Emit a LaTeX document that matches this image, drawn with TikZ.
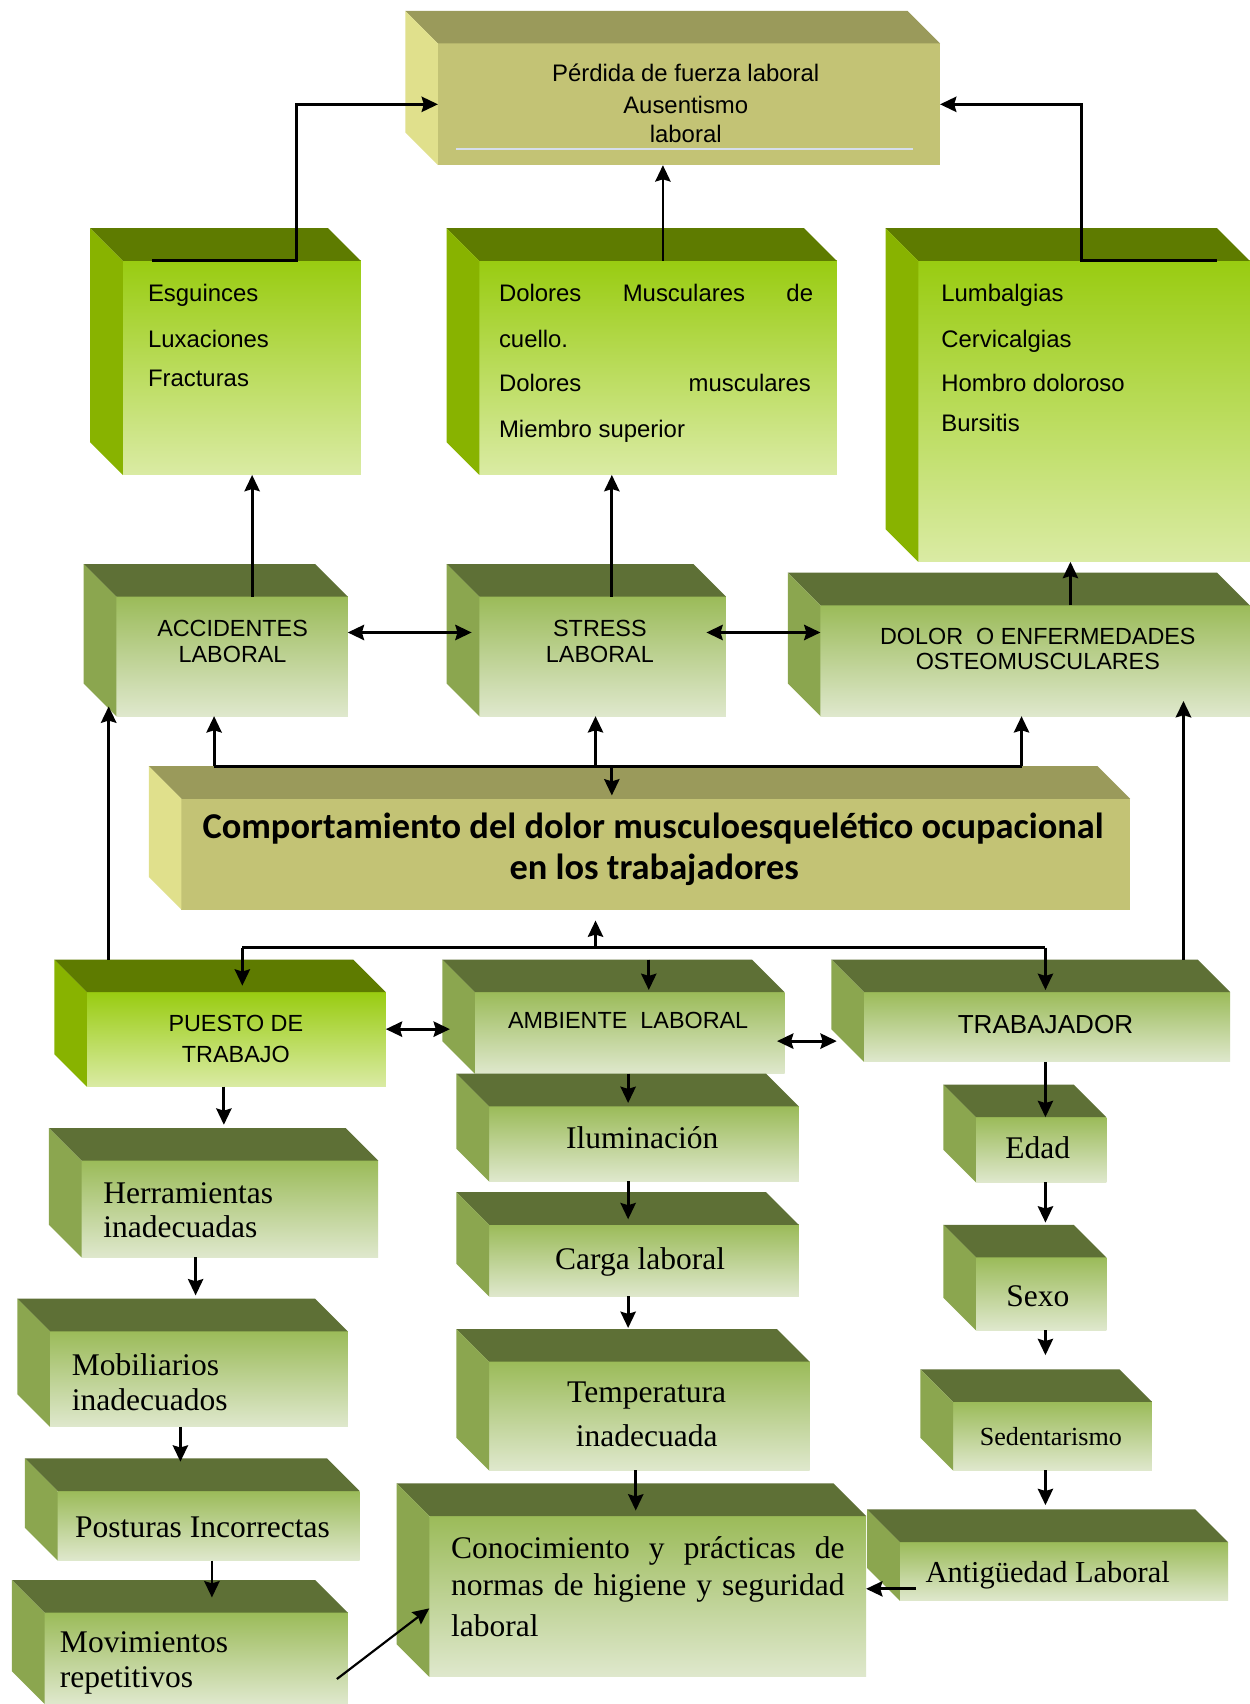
\documentclass[tikz,border=0pt]{standalone}
\usepackage{fontspec}
\setmainfont{Liberation Serif}
\newfontfamily\sansf{Liberation Sans}
\newfontfamily\calf{Carlito}
\usetikzlibrary{calc,arrows.meta}
\definecolor{khF}{HTML}{C3C375}
\definecolor{khT}{HTML}{9A9A5B}
\definecolor{khS}{HTML}{E0E08C}
\definecolor{bgT}{HTML}{5E7B00}
\definecolor{bgS}{HTML}{88B300}
\definecolor{bgFa}{HTML}{99CC11}
\definecolor{bgFb}{HTML}{DAEBA4}
\definecolor{mgT}{HTML}{5E7036}
\definecolor{mgS}{HTML}{8BA64F}
\definecolor{mgFa}{HTML}{9BBB59}
\definecolor{mgFb}{HTML}{DFE8CD}
\definecolor{hiline}{HTML}{D6DEEC}
\newcommand\cuboid[6]{%
  \node[#6face, anchor=north west, minimum width={(#4-#2)*1pt}, minimum height={(#5-#3)*1pt}] (#1) at (#2,#3) {};
  \fill[#6top] (#1.north west) -- ++(-30,-30) -- ($(#1.north east)+(-30,-30)$) -- (#1.north east) -- cycle;
  \fill[#6side] (#1.north west) -- ++(-30,-30) -- ($(#1.south west)+(-30,-30)$) -- (#1.south west) -- cycle;
}
\tikzset{
  khface/.style={fill=khF, inner sep=0pt, outer sep=0pt},
  khtop/.style={fill=khT}, khside/.style={fill=khS},
  bgface/.style={top color=bgFa, bottom color=bgFb, inner sep=0pt, outer sep=0pt},
  bgtop/.style={fill=bgT}, bgside/.style={fill=bgS},
  mgface/.style={top color=mgFa, bottom color=mgFb, inner sep=0pt, outer sep=0pt},
  mgtop/.style={fill=mgT}, mgside/.style={fill=mgS},
  sa/.style={font=\sansf\fontsize{22}{26}\selectfont, inner sep=0pt},
  sc/.style={font=\sansf\fontsize{21.5}{25}\selectfont, inner sep=0pt},
  se/.style={font=\fontsize{29}{33}\selectfont, inner sep=0pt},
  cb/.style={font=\calf\bfseries\fontsize{33.5}{38}\selectfont, inner sep=0pt},
  tip/.tip={Stealth[length=15pt,width=14pt,inset=2pt]},
  ar/.style={line width=2.6pt, -tip},
  dar/.style={line width=2.8pt, tip-tip},
  ln/.style={line width=2.6pt},
}
\begin{document}
\begin{tikzpicture}[x=1pt,y=-1pt]
\useasboundingbox[fill=white] (0,0) rectangle (1150,1568);
% boxes
\cuboid{top}{403}{40}{865}{152}{kh}
\cuboid{esg}{113}{240}{332}{437}{bg}
\cuboid{dol}{441}{240}{770}{437}{bg}
\cuboid{lum}{845}{240}{1150}{517}{bg}
\cuboid{acc}{107}{549}{320}{659}{mg}
\cuboid{str}{441}{549}{668}{659}{mg}
\cuboid{dlr}{755}{557}{1150}{659}{mg}
\cuboid{comp}{167}{735}{1040}{837}{kh}
\cuboid{pue}{80}{913}{355}{1000}{bg}
\cuboid{amb}{437}{913}{722}{988}{mg}
\cuboid{trab}{795}{913}{1132}{977}{mg}
\cuboid{herr}{75}{1068}{348}{1157}{mg}
\cuboid{mob}{46}{1225}{320}{1313}{mg}
\cuboid{post}{53}{1372}{331}{1436}{mg}
\cuboid{mov}{41}{1484}{320}{1568}{mg}
\cuboid{ilu}{450}{1018}{735}{1087}{mg}
\cuboid{carga}{450}{1127}{735}{1193}{mg}
\cuboid{temp}{450}{1253}{745}{1353}{mg}
\cuboid{con}{395}{1395}{797}{1543}{mg}
\cuboid{edad}{898}{1028}{1018}{1088}{mg}
\cuboid{sexo}{898}{1157}{1018}{1224}{mg}
\cuboid{sed}{877}{1290}{1060}{1353}{mg}
\cuboid{ant}{828}{1419}{1130}{1473}{mg}
% highlight line in top box
\draw[hiline, line width=2pt] ($(top.south west)+(17,-15)$) -- ($(top.south east)+(-25,-15)$);
% texts
\node[sa, anchor=base] (ta) at (631,75) {Pérdida de fuerza laboral};
\node[sa, anchor=base] (tb) at (631,104) {Ausentismo};
\node[sa, anchor=base] (tc) at (631,131) {laboral};
\node[sa, anchor=base west] (ea) at (136,277) {Esguinces};
\node[sa, anchor=base west] (eb) at (136,320) {Luxaciones};
\node[sa, anchor=base west] (ec) at (136,356) {Fracturas};
\node[sa, anchor=base west] (da) at (459,277) {\makebox[289pt][s]{Dolores Musculares de}};
\node[sa, anchor=base west] (db) at (459,320) {cuello.};
\node[sa, anchor=base west] (dc) at (459,360) {\makebox[287pt][s]{Dolores musculares}};
\node[sa, anchor=base west] (dd) at (459,403) {Miembro superior};
\node[sa, anchor=base west] (la) at (866,277) {Lumbalgias};
\node[sa, anchor=base west] (lb) at (866,320) {Cervicalgias};
\node[sa, anchor=base west] (lc) at (866,360) {Hombro doloroso};
\node[sa, anchor=base west] (ld) at (866,397) {Bursitis};
\node[sc, anchor=base] (aa) at (214,586) {ACCIDENTES};
\node[sc, anchor=base] (ab) at (214,610) {LABORAL};
\node[sc, anchor=base] (sa1) at (552,586) {STRESS};
\node[sc, anchor=base] (sb1) at (552,610) {LABORAL};
\node[sc, anchor=base] (ola) at (955,593) {DOLOR\ \ O ENFERMEDADES};
\node[sc, anchor=base] (olb) at (955,616) {OSTEOMUSCULARES};
\node[cb, anchor=base] (ca) at (601,772) {Comportamiento del dolor musculoesquelético ocupacional};
\node[cb, anchor=base] (cbb) at (602,809) {en los trabajadores};
\node[sc, anchor=base] (pa) at (217,949) {PUESTO DE};
\node[sc, anchor=base] (pb) at (217,978) {TRABAJO};
\node[sc, anchor=base] (ama) at (578,946) {AMBIENTE\ \ LABORAL};
\node[sc, font=\sansf\fontsize{24}{28}\selectfont, anchor=base] (tra) at (962,951) {TRABAJADOR};
\node[se, anchor=base west] (ha) at (95,1107) {Herramientas};
\node[se, anchor=base west] (hb) at (95,1139) {inadecuadas};
\node[se, anchor=base west] (ma) at (66,1266) {Mobiliarios};
\node[se, anchor=base west] (mb) at (66,1298) {inadecuados};
\node[se, anchor=base west] (poa) at (69,1415) {Posturas Incorrectas};
\node[se, anchor=base west] (mva) at (55,1521) {Movimientos};
\node[se, anchor=base west] (mvb) at (55,1553) {repetitivos};
\node[se, anchor=base] (ila) at (591,1057) {Iluminación};
\node[se, anchor=base] (cga) at (589,1168) {Carga laboral};
\node[se, anchor=base] (tea) at (595,1291) {Temperatura};
\node[se, anchor=base] (teb) at (595,1331) {inadecuada};
\node[se, anchor=base west] (coa) at (415,1434) {\makebox[362pt][s]{Conocimiento y prácticas de}};
\node[se, anchor=base west] (cob) at (415,1468) {\makebox[362pt][s]{normas de higiene y seguridad}};
\node[se, anchor=base west] (coc) at (415,1506) {laboral};
\node[se, anchor=base] (eda) at (955,1066) {Edad};
\node[se, anchor=base] (sxa) at (955,1202) {Sexo};
\node[se, font=\fontsize{24}{28}\selectfont, anchor=base] (sda) at (967,1330) {Sedentarismo};
\node[se, font=\fontsize{28}{32}\selectfont, anchor=base] (ana) at (964,1456) {Antigüedad Laboral};
% connectors to top box
\draw[ar] (esg.north -| 140,0) -| (273,0 |- top.west) -- (top.west);
\draw[ar] (dol.north -| 610,0) -- (top.south -| 610,0);
\draw[ar] (lum.north -| 1120,0) -| (995,0 |- top.east) -- (top.east);
% middle row up
\draw[ar] (acc.north -| 232,0) -- (esg.south -| 232,0);
\draw[ar] (str.north -| 563,0) -- (dol.south -| 563,0);
\draw[ar] (dlr.north -| 985,0) -- (lum.south -| 985,0);
\draw[dar] (acc.east |- 0,582) -- ($(str.west |- 0,582)+(-7,0)$);
\draw[dar] ($(str.east |- 0,582)+(-18,0)$) -- (dlr.west |- 0,582);
% upper bar
\coordinate (ubL) at (197,705);
\coordinate (ubR) at (940,705);
\coordinate (ubS) at (548,705);
\coordinate (ubD) at (563,705);
\draw[ln] (ubL) -- (ubR);
\draw[ar] (ubL) -- (acc.south -| ubL);
\draw[ar] (ubS) -- (str.south -| ubS);
\draw[ar] (ubR) -- (dlr.south -| ubR);
\draw[ar] (ubD) -- ($(comp.north -| ubD)+(0,-3)$);
% lower bar
\coordinate (lbL) at (223,872);
\coordinate (lbR) at (962,872);
\coordinate (lbU) at (548,872);
\coordinate (lbA) at (597,872);
\draw[ln, line width=3.4pt] (lbL) -- (lbR);
\draw[ar] (lbU) -- ($(comp.south -| lbU)+(0,10)$);
\draw[ar] (lbL) -- ($(pue.north -| lbL)+(0,-6)$);
\draw[ar] ($(amb.north -| lbA)+(0,-30)$) -- ($(amb.north -| lbA)+(0,-2)$);
\draw[ar] (lbR) -- ($(trab.north -| lbR)+(0,-2)$);
% long arrows
\draw[ar, line width=3.2pt] ($(pue.north -| 100,0)+(0,-30)$) -- ($(acc.south -| 100,0)+(0,-9)$);
\draw[ar, line width=3.2pt] ($(trab.north -| 1089,0)+(0,-30)$) -- ($(dlr.south -| 1089,0)+(0,-14)$);
\draw[dar] (pue.east |- 0,947) -- ($(amb.west |- 0,947)+(-23,0)$);
\draw[dar] ($(amb.east |- 0,958)+(-7,0)$) -- ($(trab.west |- 0,958)+(-25,0)$);
% left column
\draw[ar] (pue.south -| 206,0) -- ($(herr.north -| 206,0)+(0,-33)$);
\draw[ar] (herr.south -| 180,0) -- ($(mob.north -| 180,0)+(0,-33)$);
\draw[ar] (mob.south -| 166,0) -- ($(post.north -| 166,0)+(0,-27)$);
\draw[ar] (post.south -| 195,0) -- ($(mov.north -| 195,0)+(0,-14)$);
\draw[ar, line width=2pt] ($(mov.east)+(-10,19)$) -- ($(con.west)+(0,11)$);
% middle column
\draw[ar] (amb.south -| 578,0) -- ($(ilu.north -| 578,0)+(0,-3)$);
\draw[ar] (ilu.south -| 578,0) -- ($(carga.north -| 578,0)+(0,-5)$);
\draw[ar] (carga.south -| 578,0) -- ($(temp.north -| 578,0)+(0,-31)$);
\draw[ar] (temp.south -| 585,0) -- ($(con.north -| 585,0)+(0,-5)$);
% right column
\draw[ar] (trab.south -| 962,0) -- (edad.north -| 962,0);
\draw[ar] (edad.south -| 962,0) -- ($(sexo.north -| 962,0)+(0,-32)$);
\draw[ar] (sexo.south -| 962,0) -- ($(sed.north -| 962,0)+(0,-43)$);
\draw[ar] (sed.south -| 962,0) -- ($(ant.north -| 962,0)+(0,-34)$);
\draw[ar] ($(ant.west |- 0,1462)+(15,0)$) -- (con.east |- 0,1462);
\end{tikzpicture}
\end{document}
